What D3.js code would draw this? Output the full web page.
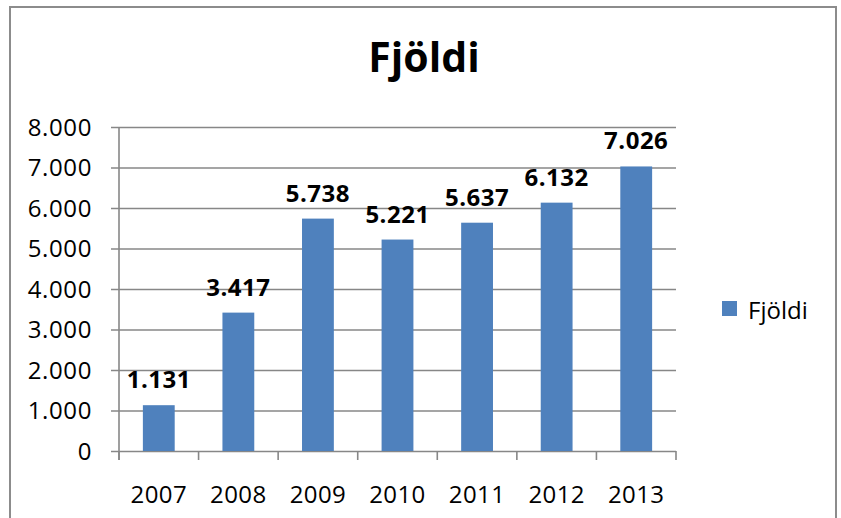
<!DOCTYPE html>
<html>
<head>
<meta charset="utf-8">
<script src="https://cdn.jsdelivr.net/npm/d3@7"></script>
<style>
  body { margin: 0; background: #fff; }
  text { font-family: "Open Sans", sans-serif; fill: #000; }
</style>
</head>
<body>
<svg id="chart" width="841" height="518"></svg>
<script>
var years = ['2007', '2008', '2009', '2010', '2011', '2012', '2013'];
var fjoldi = [1131, 3417, 5738, 5221, 5637, 6132, 7026];
var yTicks = [0, 1000, 2000, 3000, 4000, 5000, 6000, 7000, 8000];
var seriesName = 'Fjöldi';
var chartTitle = 'Fjöldi';

var isLocale = d3.formatLocale({
  decimal: ',',
  thousands: '.',
  grouping: [3],
  currency: ['', ' kr.']
});
var fmt = isLocale.format(',d');

var svg = d3.select('#chart');
var gridColor = '#878787';
var barColor = '#4f81bd';

var plot = { left: 119, right: 676, top: 127, bottom: 451 };

var x = d3.scaleBand()
  .domain(years)
  .range([plot.left, plot.right])
  .paddingInner(0.6)
  .paddingOuter(0.3);

var y = d3.scaleLinear()
  .domain([0, 8000])
  .range([plot.bottom, plot.top]);

// outer frame, bottom edge runs off the picture
svg.append('rect')
  .attr('x', 10)
  .attr('y', 7)
  .attr('width', 826)
  .attr('height', 530)
  .attr('fill', '#fff')
  .attr('stroke', '#8c8c8c')
  .attr('stroke-width', 2);

svg.append('text')
  .attr('x', 424)
  .attr('y', 72)
  .attr('text-anchor', 'middle')
  .style('font-size', '41px')
  .style('font-weight', 'bold')
  .text(chartTitle);

// gridlines double as the y ticks
var yAxis = d3.axisLeft(y)
  .tickValues(yTicks)
  .tickSize(-(plot.right - plot.left) - 8)
  .tickPadding(0)
  .tickFormat(fmt);

var gy = svg.append('g')
  .attr('transform', 'translate(' + plot.right + ',0)')
  .call(yAxis);
gy.select('.domain').remove();
gy.selectAll('.tick line')
  .attr('x1', 0)
  .attr('x2', -(plot.right - plot.left) - 8)
  .attr('stroke', gridColor)
  .attr('stroke-width', 1.6);
gy.selectAll('.tick text')
  .attr('x', -(plot.right - 92))
  .attr('dy', '0.34em')
  .attr('fill', '#000')
  .style('font-size', '24px')
  .style('letter-spacing', '0.6px')
  .style('font-family', '"Open Sans", sans-serif')
  .attr('text-anchor', 'end');

svg.append('line')
  .attr('x1', plot.left)
  .attr('x2', plot.left)
  .attr('y1', plot.top)
  .attr('y2', plot.bottom + 9)
  .attr('stroke', gridColor)
  .attr('stroke-width', 1.6);

// x ticks sit on the category boundaries
var boundaries = d3.range(years.length + 1).map(function(i) {
  return plot.left + i * (plot.right - plot.left) / years.length;
});
svg.append('g').selectAll('line')
  .data(boundaries)
  .join('line')
  .attr('x1', function(d) { return d; })
  .attr('x2', function(d) { return d; })
  .attr('y1', plot.bottom)
  .attr('y2', plot.bottom + 9)
  .attr('stroke', gridColor)
  .attr('stroke-width', 1.6);

svg.append('g').selectAll('text')
  .data(years)
  .join('text')
  .attr('x', function(d) { return x(d) + x.bandwidth() / 2; })
  .attr('y', 503)
  .attr('text-anchor', 'middle')
  .style('font-size', '24px')
  .style('letter-spacing', '0.4px')
  .text(function(d) { return d; });

svg.append('g').selectAll('rect')
  .data(fjoldi)
  .join('rect')
  .attr('x', function(d, i) { return x(years[i]); })
  .attr('y', function(d) { return y(d); })
  .attr('width', x.bandwidth())
  .attr('height', function(d) { return plot.bottom - y(d); })
  .attr('fill', barColor);

svg.append('g').selectAll('text')
  .data(fjoldi)
  .join('text')
  .attr('x', function(d, i) { return x(years[i]) + x.bandwidth() / 2; })
  .attr('y', function(d) { return y(d) - 17; })
  .attr('text-anchor', 'middle')
  .style('font-size', '24px')
  .style('letter-spacing', '0.5px')
  .style('font-weight', 'bold')
  .text(function(d) { return fmt(d); });

var legend = svg.append('g');
legend.append('rect')
  .attr('x', 722)
  .attr('y', 301)
  .attr('width', 15)
  .attr('height', 15)
  .attr('fill', barColor);
legend.append('text')
  .attr('x', 748)
  .attr('y', 319)
  .style('font-size', '24px')
  .text(seriesName);
</script>
</body>
</html>
